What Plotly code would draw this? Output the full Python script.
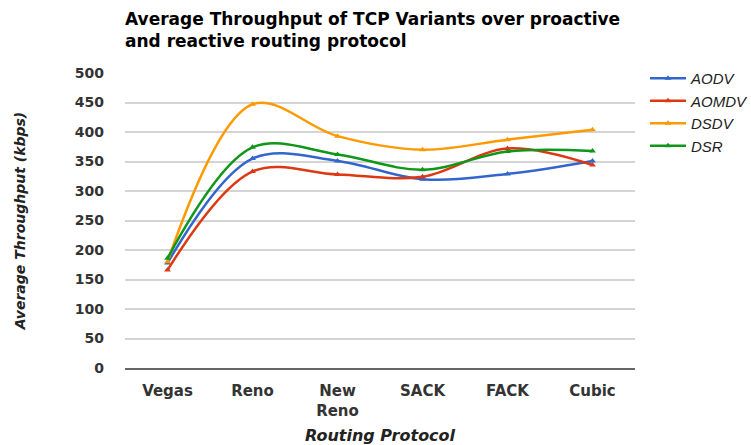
import plotly.graph_objects as go

categories = ["Vegas", "Reno", "New<br>Reno", "SACK", "FACK", "Cubic"]
aodv = [178, 355, 351, 320, 329, 351]
aomdv = [166, 333, 328, 324, 372, 344]
dsdv = [180, 447, 393, 370, 387, 404]
dsr = [186, 374, 362, 336, 367, 368]
series = [("AODV", aodv, "#3366cc"), ("AOMDV", aomdv, "#dc3912"),
          ("DSDV", dsdv, "#ff9900"), ("DSR", dsr, "#109618")]
y_ticks = [0, 50, 100, 150, 200, 250, 300, 350, 400, 450, 500]

BOLD = "DejaVu Sans, Verdana, sans-serif"

fig = go.Figure()
for name, vals, col in series:
    fig.add_trace(go.Scatter(
        x=categories, y=vals, name=name, mode="lines+markers",
        line=dict(color=col, width=2.5, shape="spline", smoothing=1.0),
        marker=dict(symbol="triangle-up", size=6, color=col),
    ))

fig.update_layout(
    width=751, height=445,
    margin=dict(l=125, r=116, t=73, b=77, autoexpand=False),
    paper_bgcolor="white", plot_bgcolor="white",
    font=dict(family="Liberation Sans, Arial, sans-serif", color="#333333"),
    title=dict(
        text="<b>Average Throughput of TCP Variants over proactive<br>and reactive routing protocol</b>",
        x=125 / 751, xanchor="left", y=1 - 25 / 445, yanchor="top",
        font=dict(size=17, color="#000000", family=BOLD),
    ),
    legend=dict(x=1.0196, y=1.037, xanchor="left", yanchor="top",
                font=dict(size=15, color="#222222", style="italic",
                          family="Liberation Sans, Arial, sans-serif"),
                tracegroupgap=0, itemwidth=36),
    xaxis=dict(
        range=[-0.5, 5.5],
        showgrid=False, showline=True, linecolor="#666666", linewidth=2,
        tickfont=dict(size=15, color="#333333", weight="bold", family=BOLD),
        ticks="", ticklabelstandoff=8, automargin=False,
        title=dict(text="<b><i>Routing Protocol</i></b>",
                   font=dict(size=16, color="#222222", family=BOLD), standoff=22),
    ),
    yaxis=dict(
        range=[0, 500], tickvals=y_ticks, showgrid=True, gridcolor="#d4d4d4",
        gridwidth=1.5, zeroline=False, automargin=False,
        tickfont=dict(size=14, color="#333333", weight="bold", family=BOLD),
        ticklabelstandoff=20,
        title=dict(text="<b><i>Average Throughput (kbps)</i></b>",
                   font=dict(size=14, color="#222222", family=BOLD), standoff=45),
    ),
)

fig.write_html("out.html", config={"displayModeBar": False},
               post_script="document.body.style.margin='0';")
